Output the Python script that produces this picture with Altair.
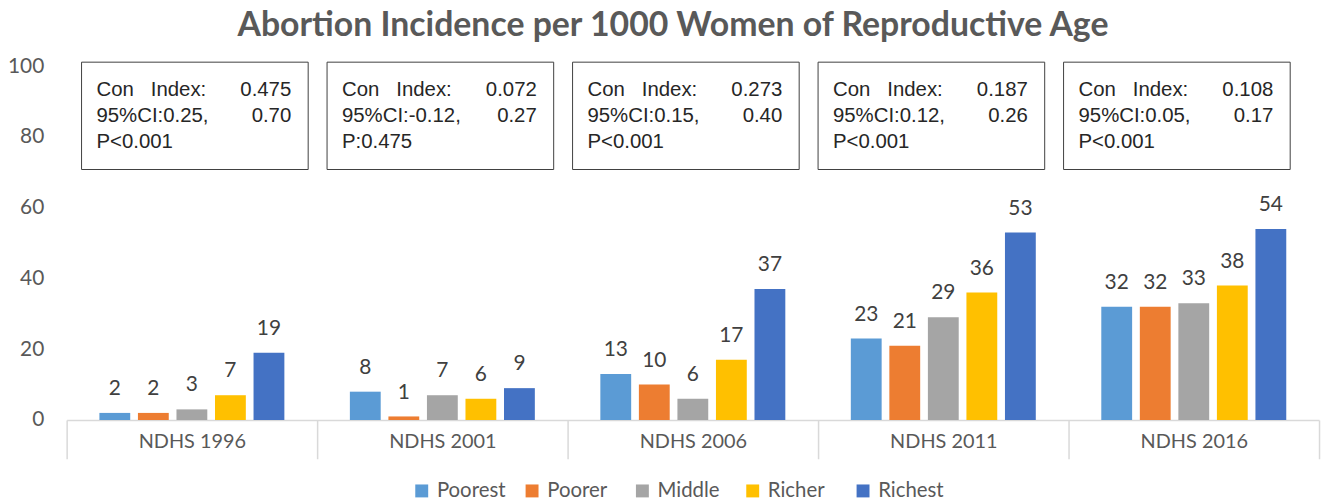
import altair as alt
import pandas as pd

# ---- data ----
surveys = ["NDHS 1996", "NDHS 2001", "NDHS 2006", "NDHS 2011", "NDHS 2016"]
groups = ["Poorest", "Poorer", "Middle", "Richer", "Richest"]
poorest = [2, 8, 13, 23, 32]
poorer = [2, 1, 10, 21, 32]
middle = [3, 7, 6, 29, 33]
richer = [7, 6, 17, 36, 38]
richest = [19, 9, 37, 53, 54]
colors = ["#5B9BD5", "#ED7D31", "#A5A5A5", "#FFC000", "#4472C4"]

con_index = ["0.475", "0.072", "0.273", "0.187", "0.108"]
ci_low = ["0.25", "-0.12", "0.15", "0.12", "0.05"]
ci_high = ["0.70", "0.27", "0.40", "0.26", "0.17"]
p_text = ["P<0.001", "P:0.475", "P<0.001", "P<0.001", "P<0.001"]

series = [poorest, poorer, middle, richer, richest]
rows = []
for g, vals in zip(groups, series):
    for s, v in zip(surveys, vals):
        rows.append({"survey": s, "group": g, "value": v})
df = pd.DataFrame(rows)

boxes = pd.DataFrame({
    "survey": surveys,
    "idx": list(range(len(surveys))),
    "line1": ["Con\u00a0\u00a0\u00a0Index:" for _ in surveys],
    "val1": con_index,
    "line2": ["95%CI:" + lo + "," for lo in ci_low],
    "val2": ci_high,
    "line3": p_text,
})

FONT = "Lato"
BOXFONT = "Liberation Sans"
GRAY = "#595959"
W, H = 1260, 356
BOXW = 228
HALF_BAND = W / len(surveys) / 2

xenc = alt.X("survey:N", sort=surveys,
             scale=alt.Scale(paddingInner=0, paddingOuter=0),
             axis=alt.Axis(title=None, labelFont=FONT, labelFontSize=20,
                           labelColor=GRAY, domainColor="#D9D9D9", domainWidth=1.5,
                           tickBand="extent", tickSize=39, tickColor="#D9D9D9",
                           tickWidth=1.5, labelPadding=-27, labelAngle=0))

bars = alt.Chart(df).mark_bar().encode(
    x=xenc,
    xOffset=alt.XOffset("group:N", sort=groups,
                        scale=alt.Scale(paddingInner=0.2, paddingOuter=0.85)),
    y=alt.Y("value:Q", scale=alt.Scale(domain=[0, 100]),
            axis=alt.Axis(title=None, values=[0, 20, 40, 60, 80, 100], grid=False,
                          domain=False, ticks=False, labelFont=FONT,
                          labelFontSize=21, labelColor=GRAY, labelPadding=23)),
    color=alt.Color("group:N", sort=groups,
                    scale=alt.Scale(domain=groups, range=colors),
                    legend=alt.Legend(title=None, orient="none", legendX=347,
                                      legendY=417, direction="horizontal",
                                      symbolType="square", symbolSize=169,
                                      symbolStrokeWidth=0, labelFont=FONT,
                                      labelFontSize=20.5, labelColor=GRAY,
                                      labelOffset=5, columnPadding=16,
                                      gridAlign="all")),
)

labels = alt.Chart(df).mark_text(dy=-18, baseline="alphabetic", font=FONT,
                                 fontSize=21, color="#404040").encode(
    x=alt.X("survey:N", sort=surveys),
    xOffset=alt.XOffset("group:N", sort=groups),
    y="value:Q",
    text="value:Q",
)

box_base = alt.Chart(boxes).transform_calculate(
    drift=f"{HALF_BAND} + 3 - 5 * datum.idx")

rects = box_base.mark_bar(width=BOXW, y=-4, y2=104, fill="white",
                          stroke="#404040", strokeWidth=1).encode(
    x=alt.X("survey:N", sort=surveys),
    xOffset=alt.XOffset("drift:Q", scale=None),
)

def line(field, ypix, align, dx):
    return box_base.mark_text(align=align, baseline="alphabetic", y=ypix, dx=dx,
                              font=BOXFONT, fontSize=20.5, color="#262626").encode(
        x=alt.X("survey:N", sort=surveys),
        xOffset=alt.XOffset("drift:Q", scale=None),
        text=f"{field}:N",
    )

left_dx = -BOXW / 2 + 15
right_dx = BOXW / 2 - 17
texts = [
    line("line1", 30, "left", left_dx),
    line("val1", 30, "right", right_dx),
    line("line2", 56, "left", left_dx),
    line("val2", 56, "right", right_dx),
    line("line3", 82, "left", left_dx),
]

chart = alt.layer(bars, labels, rects, *texts).properties(
    width=W, height=H,
    title=alt.Title("Abortion Incidence per 1000 Women of Reproductive Age",
                    font=FONT, fontSize=34, fontWeight="bold", color=GRAY,
                    anchor="middle", dx=-20, offset=12),
    autosize=alt.AutoSizeParams(type="none"),
    padding={"left": 59, "top": 57, "right": 3, "bottom": 79},
).configure_view(stroke=None)

chart.save("out.html", embed_options={"renderer": "svg", "actions": False})
